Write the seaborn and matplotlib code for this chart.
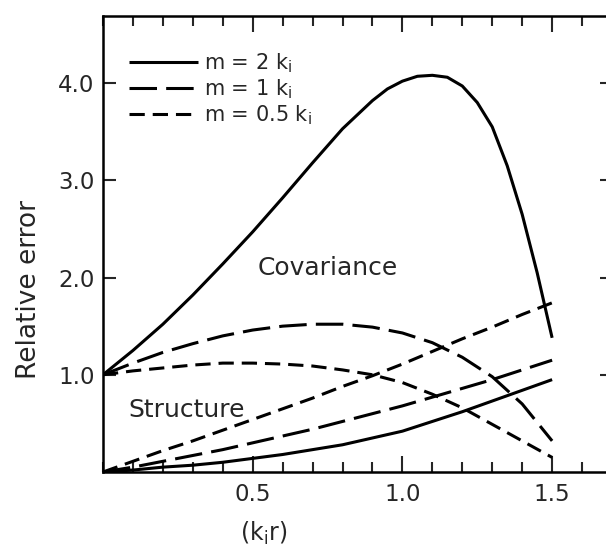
import matplotlib
matplotlib.use("Agg")
import matplotlib.pyplot as plt
from matplotlib.ticker import FixedLocator, MultipleLocator
import numpy as np
import pandas as pd
import seaborn as sns

# ---------------- data ----------------
x_cov2 = [0.0, 0.1, 0.2, 0.3, 0.4, 0.5, 0.6, 0.7, 0.8, 0.9, 0.95, 1.0, 1.05, 1.1,
          1.15, 1.2, 1.25, 1.3, 1.35, 1.4, 1.45, 1.5]
y_cov2 = [1.0, 1.25, 1.52, 1.82, 2.14, 2.47, 2.82, 3.18, 3.53, 3.82, 3.94, 4.02,
          4.07, 4.08, 4.06, 3.97, 3.80, 3.55, 3.15, 2.65, 2.05, 1.38]

x_std = [0.0, 0.1, 0.2, 0.3, 0.4, 0.5, 0.6, 0.7, 0.8, 0.9, 1.0, 1.1, 1.2, 1.3, 1.4, 1.5]
y_cov1 = [1.0, 1.12, 1.23, 1.32, 1.40, 1.46, 1.50, 1.52, 1.52, 1.49, 1.43, 1.33,
          1.18, 0.98, 0.70, 0.32]
y_cov05 = [1.0, 1.04, 1.07, 1.10, 1.12, 1.12, 1.11, 1.09, 1.05, 1.00, 0.92, 0.80,
           0.66, 0.49, 0.32, 0.15]
y_str2 = [0.0, 0.02, 0.05, 0.07, 0.10, 0.14, 0.18, 0.23, 0.28, 0.35, 0.42, 0.52,
          0.62, 0.73, 0.84, 0.95]
y_str1 = [0.0, 0.05, 0.11, 0.17, 0.23, 0.30, 0.37, 0.44, 0.52, 0.60, 0.68, 0.77,
          0.86, 0.95, 1.05, 1.15]
y_str05 = [0.0, 0.11, 0.22, 0.32, 0.43, 0.54, 0.65, 0.76, 0.88, 0.99, 1.11, 1.24,
           1.37, 1.49, 1.62, 1.74]

legend_labels = [r"m = 2 k$_\mathregular{i}$", r"m = 1 k$_\mathregular{i}$",
                 r"m = 0.5 k$_\mathregular{i}$"]
x_ticks = [0.5, 1.0, 1.5]
x_ticklabels = ["0.5", "1.0", "1.5"]
y_ticks = [1.0, 2.0, 3.0, 4.0]
y_ticklabels = ["1.0", "2.0", "3.0", "4.0"]

# ---------------- style ----------------
sns.set_style("ticks")
plt.rcParams["font.family"] = ["DejaVu Sans"]

fig = plt.figure(figsize=(6.06, 5.51), dpi=100)
ax = fig.add_axes([103 / 606, 79 / 551, 509 / 606, 456 / 551])

LW = 2.2
solid = "-"
longdash = (0, (9, 3))
shortdash = (0, (5, 2.6))

series = [
    (x_cov2, y_cov2, solid, legend_labels[0]),
    (x_std, y_cov1, longdash, legend_labels[1]),
    (x_std, y_cov05, shortdash, legend_labels[2]),
    (x_std, y_str2, solid, None),
    (x_std, y_str1, longdash, None),
    (x_std, y_str05, shortdash, None),
]
for xs, ys, ls, lab in series:
    df = pd.DataFrame({"x": xs, "y": ys})
    sns.lineplot(data=df, x="x", y="y", ax=ax, color="black", lw=LW,
                 linestyle=ls, label=lab, legend=False, solid_capstyle="butt",
                 dash_capstyle="butt", solid_joinstyle="round")

ax.set_xlim(0, 1.7)
ax.set_ylim(0, 4.69)

ax.xaxis.set_major_locator(FixedLocator(x_ticks))
ax.set_xticklabels(x_ticklabels)
ax.xaxis.set_minor_locator(MultipleLocator(0.1))
ax.yaxis.set_major_locator(FixedLocator(y_ticks))
ax.set_yticklabels(y_ticklabels)

ax.tick_params(axis="x", which="major", direction="in", length=11.5, width=1.5,
               top=True, bottom=True, labelsize=16.5, pad=8)
ax.tick_params(axis="x", which="minor", direction="in", length=7, width=1.5,
               top=True, bottom=True)
ax.tick_params(axis="y", which="major", direction="in", length=9, width=1.5,
               left=True, right=True, labelsize=16.5, pad=6)
for s in ax.spines.values():
    s.set_visible(True)
    s.set_linewidth(1.8)
    s.set_color("black")

ax.set_xlabel(r"(k$_\mathregular{i}$r)", fontsize=17)
ax.xaxis.set_label_coords(0.315, -0.105)
ax.set_ylabel("Relative error", fontsize=19)
ax.yaxis.set_label_coords(-0.12, 0.40)

ax.text(0.75, 2.1, "Covariance", fontsize=18, ha="center", va="center")
ax.text(0.28, 0.64, "Structure", fontsize=18, ha="center", va="center")

handles, labels = ax.get_legend_handles_labels()
ax.legend(handles, labels, loc="upper left", bbox_to_anchor=(0.035, 0.94),
          frameon=False, fontsize=15, handlelength=3.3, handletextpad=0.3,
          labelspacing=0.1, borderaxespad=0)

fig.savefig("out.png", dpi=100, facecolor="white")
